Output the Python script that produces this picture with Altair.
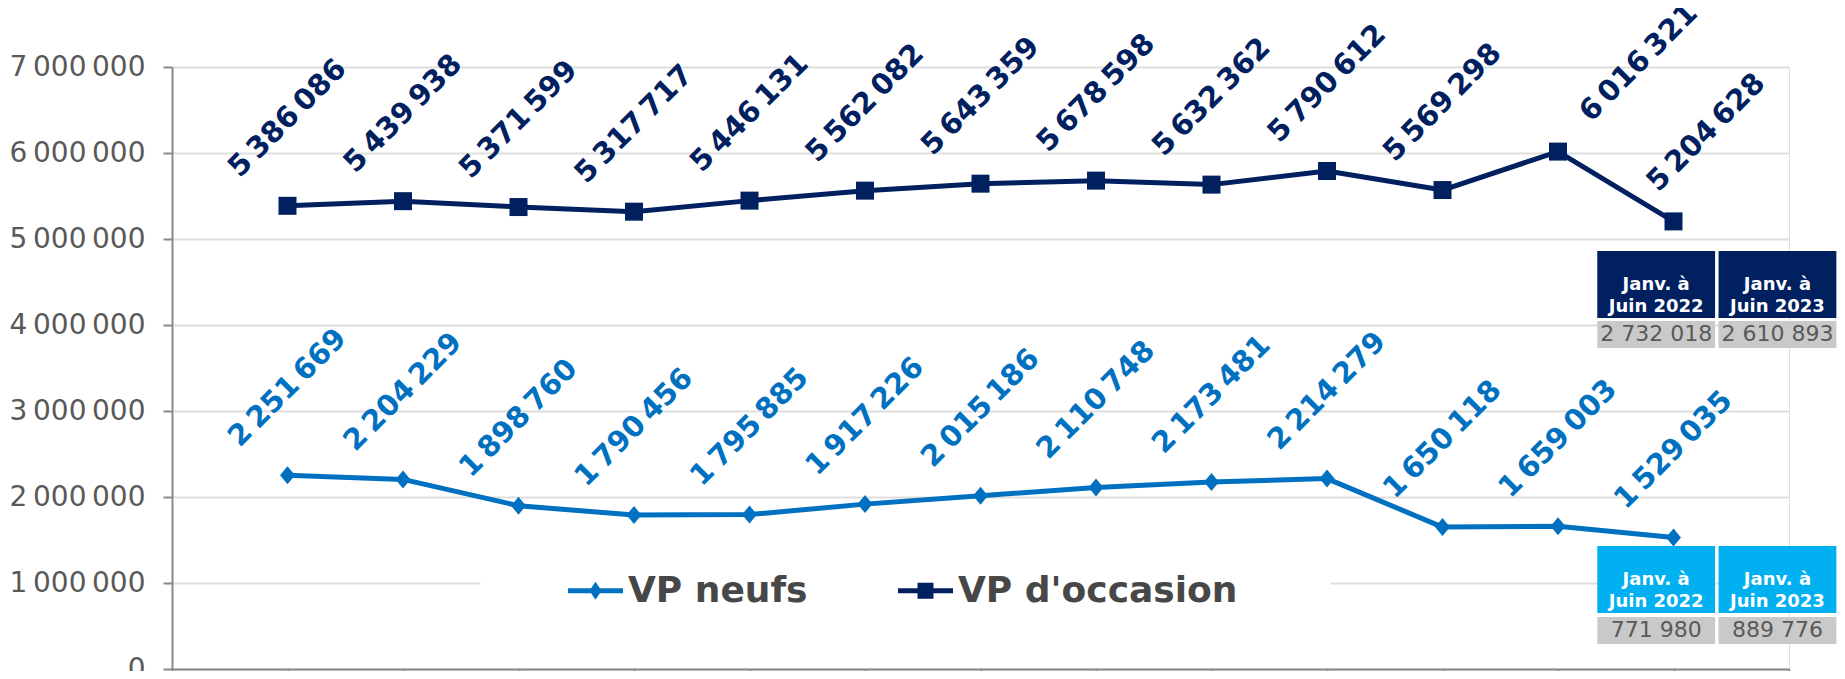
import altair as alt
import pandas as pd

# ---------------- data ----------------
positions = list(range(1, 14))
vp_occasion = [5386086, 5439938, 5371599, 5317717, 5446131, 5562082, 5643359,
               5678598, 5632362, 5790612, 5569298, 6016321, 5204628]
vp_neufs = [2251669, 2204229, 1898760, 1790456, 1795885, 1917226, 2015186,
            2110748, 2173481, 2214279, 1650118, 1659003, 1529035]
series_names = ["VP neufs", "VP d'occasion"]

y_ticks = [0, 1000000, 2000000, 3000000, 4000000, 5000000, 6000000, 7000000]
x_ticks = list(range(0, 15))

table_headers = ["Janv. à\nJuin 2022", "Janv. à\nJuin 2023"]
table_occasion_values = ["2 732 018", "2 610 893"]
table_neufs_values = ["771 980", "889 776"]

# table cell placement (in axis units)
table_col_start = [12.34, 13.39]
table_col_end = [13.36, 14.41]
occ_header_rows = [4081000, 4860000]
occ_value_rows = [3733000, 4047000]
neufs_header_rows = [651000, 1430000]
neufs_value_rows = [291000, 605000]

# area kept clear behind the legend (in axis units)
legend_clear_x = [2.67, 10.03]
legend_clear_y = [800000, 1200000]

# ---------------- styles ----------------
C_NEUFS = "#0070C0"
C_OCC = "#002060"
C_NEUFS_HEAD = "#00B0F0"
C_CELL = "#C9C9C9"
C_TEXT = "#595959"
C_AXIS = "#898989"
C_GRID = "#DEDEDE"
FONT = "DejaVu Sans"

THIN = "\u2009"
LABEL_EXPR = f"replace(format(datum.value, ','), regexp(',', 'g'), '{THIN}')"

df_neufs = pd.DataFrame({"pos": positions, "value": vp_neufs})
df_occ = pd.DataFrame({"pos": positions, "value": vp_occasion})
df_long = pd.DataFrame({
    "pos": positions * 2,
    "value": vp_neufs + vp_occasion,
    "series": [series_names[0]] * 13 + [series_names[1]] * 13,
})

X_SCALE = alt.Scale(domain=[0, 14], nice=False, zero=False)
Y_SCALE = alt.Scale(domain=[0, 7000000], nice=False, zero=True)

X_AXIS = alt.Axis(values=x_ticks, labels=False, grid=False, ticks=True, tickSize=10,
                  tickColor=C_AXIS, tickWidth=2, domainColor=C_AXIS, domainWidth=2,
                  title=None)
Y_AXIS = alt.Axis(values=y_ticks, labelExpr=LABEL_EXPR,
                  labelFont=FONT, labelFontSize=28, labelColor=C_TEXT, labelPadding=18,
                  tickSize=9, tickColor=C_AXIS, tickWidth=2, domainColor=C_AXIS,
                  domainWidth=2, grid=True, gridColor=C_GRID, gridWidth=2, title=None)


def xenc(field):
    return alt.X(f"{field}:Q", scale=X_SCALE, axis=X_AXIS)


def yenc(field):
    return alt.Y(f"{field}:Q", scale=Y_SCALE, axis=Y_AXIS)


# white area behind legend (hides the 1 000 000 gridline there)
clear_df = pd.DataFrame({"x0": [legend_clear_x[0]], "x1": [legend_clear_x[1]],
                         "y0": [legend_clear_y[0]], "y1": [legend_clear_y[1]]})
clear_layer = alt.Chart(clear_df).mark_rect(color="white").encode(
    x=xenc("x0"), x2="x1:Q", y=yenc("y0"), y2="y1:Q")

DIAMOND = "M0,-1L0.83,0L0,1L-0.83,0Z"


def series_layers(df, color, shape):
    line = alt.Chart(df).mark_line(color=color, strokeWidth=5, strokeJoin="round").encode(
        x=xenc("pos"), y=yenc("value"))
    pts = alt.Chart(df).mark_point(filled=True, color=color, shape=shape, size=324,
                                   opacity=1, strokeWidth=0).encode(
        x=xenc("pos"), y=yenc("value"))
    return line, pts


line_n, pts_n = series_layers(df_neufs, C_NEUFS, DIAMOND)
line_o, pts_o = series_layers(df_occ, C_OCC, "square")


def label_layer(df, color, flt, dx, dy):
    return alt.Chart(df).transform_filter(flt).transform_calculate(
        label=LABEL_EXPR).mark_text(
        angle=315, dx=dx, dy=dy, align="center", baseline="middle", font=FONT,
        fontSize=29, fontWeight="bold", color=color).encode(
        x=xenc("pos"), y=yenc("value"), text="label:N")


lab_n = label_layer(df_neufs, C_NEUFS, "datum.pos >= 1", 62, -62)
lab_o = label_layer(df_occ, C_OCC, "datum.pos <= 11", 62, -62)
lab_o12 = label_layer(df_occ, C_OCC, "datum.pos == 12", 120, -6)
lab_o13 = label_layer(df_occ, C_OCC, "datum.pos == 13", 86, -40)


# tables
def table_layers(header_rows, value_rows, values, head_color):
    mids = [(a + b) / 2 for a, b in zip(table_col_start, table_col_end)]
    head_df = pd.DataFrame({"x0": table_col_start, "x1": table_col_end,
                            "y0": [header_rows[0]] * 2, "y1": [header_rows[1]] * 2,
                            "xm": mids,
                            "ym": [(header_rows[0] + header_rows[1]) / 2] * 2,
                            "text": table_headers})
    val_df = pd.DataFrame({"x0": table_col_start, "x1": table_col_end,
                           "y0": [value_rows[0]] * 2, "y1": [value_rows[1]] * 2,
                           "xm": mids,
                           "ym": [(value_rows[0] + value_rows[1]) / 2] * 2,
                           "text": values})
    hr = alt.Chart(head_df).mark_rect(color=head_color).encode(
        x=xenc("x0"), x2="x1:Q", y=yenc("y0"), y2="y1:Q")
    ht = alt.Chart(head_df).mark_text(color="white", font=FONT, fontSize=18,
                                      fontWeight="bold", lineBreak="\n", lineHeight=22,
                                      align="center", baseline="middle").encode(
        x=xenc("xm"), y=yenc("ym"), text="text:N")
    vr = alt.Chart(val_df).mark_rect(color=C_CELL).encode(
        x=xenc("x0"), x2="x1:Q", y=yenc("y0"), y2="y1:Q")
    vt = alt.Chart(val_df).mark_text(color=C_TEXT, font=FONT, fontSize=22,
                                     align="center", baseline="middle").encode(
        x=xenc("xm"), y=yenc("ym"), text="text:N")
    return [hr, ht, vr, vt]


tab_o = table_layers(occ_header_rows, occ_value_rows, table_occasion_values, C_OCC)
tab_n = table_layers(neufs_header_rows, neufs_value_rows, table_neufs_values, C_NEUFS_HEAD)

# legend (built from the series scale, no visible marks)
LEG_DIAMOND = ("M-1,-0.09L-0.16,-0.09L0,-0.33L0.16,-0.09L1,-0.09L1,0.09L0.16,0.09"
               "L0,0.33L-0.16,0.09L-1,0.09Z")
LEG_SQUARE = ("M-1,-0.09L-0.29,-0.09L-0.29,-0.29L0.29,-0.29L0.29,-0.09L1,-0.09L1,0.09"
              "L0.29,0.09L0.29,0.29L-0.29,0.29L-0.29,0.09L-1,0.09Z")


def make_legend():
    return alt.Legend(title=None, orient="none", legendX=396, legendY=496,
                      direction="horizontal", labelFont=FONT, labelFontSize=36,
                      labelFontWeight="bold", labelColor="#474747", labelOffset=5,
                      symbolSize=3025, symbolStrokeWidth=0, columnPadding=90,
                      labelLimit=0, symbolOpacity=1, padding=0)


legend_layer = alt.Chart(df_long).transform_filter("datum.pos < 0").mark_point(
    filled=True, size=3025, strokeWidth=0, opacity=1).encode(
    x=xenc("pos"), y=yenc("value"),
    color=alt.Color("series:N", scale=alt.Scale(domain=series_names, range=[C_NEUFS, C_OCC]),
                    legend=make_legend()),
    shape=alt.Shape("series:N", scale=alt.Scale(domain=series_names,
                                                range=[LEG_DIAMOND, LEG_SQUARE]),
                    legend=make_legend()),
)

chart = alt.layer(
    clear_layer, line_n, line_o, pts_n, pts_o, lab_n, lab_o, lab_o12, lab_o13,
    *tab_o, *tab_n, legend_layer
).properties(
    width=1617, height=602,
    autosize=alt.AutoSizeParams(type="none"),
    padding={"left": 164, "top": 59, "right": 48, "bottom": 2},
).configure_view(stroke=None).configure(background="white")

chart.save("out.html", embed_options={"renderer": "svg", "actions": False})
